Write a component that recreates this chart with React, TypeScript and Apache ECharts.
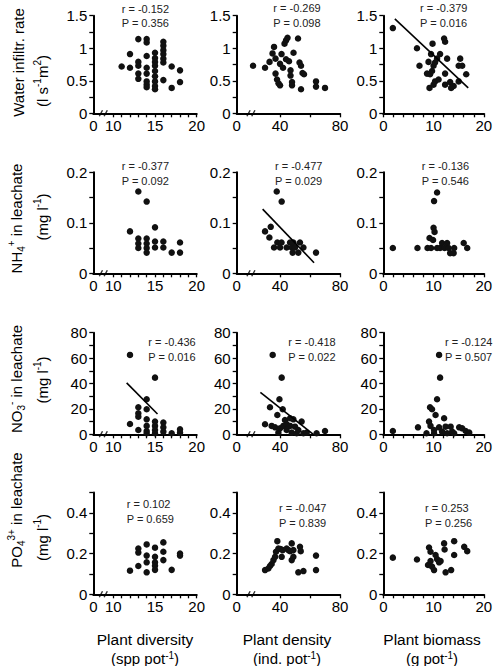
import React, { useEffect, useRef } from "react";
import * as echarts from "echarts";

const FONT = '"Liberation Sans", Arial, Helvetica, sans-serif';

// ---------- data: row 1 water infiltration rate ----------
const WATER_DIVERSITY = [
  [11, 0.72], [12, 0.91], [12, 0.7], [13, 1.14], [13, 0.79], [13, 0.73], [13, 0.61], [13, 0.53],
  [14, 1.14], [14, 1.09], [14, 0.88], [14, 0.7], [14, 0.61], [14, 0.49], [14, 0.44], [14, 0.4],
  [15, 0.93], [15, 0.85], [15, 0.79], [15, 0.73], [15, 0.65], [15, 0.57], [15, 0.49], [15, 0.42], [15, 0.37],
  [16, 1.1], [16, 1.04], [16, 0.97], [16, 0.91], [16, 0.84], [16, 0.78], [16, 0.51],
  [17, 0.72], [17, 0.39], [18, 0.66], [18, 0.48],
];
const WATER_DENSITY = [
  [22, 0.73], [30, 0.7], [33, 0.79], [35, 0.92], [36, 1.02], [37, 0.84], [37, 0.61], [38, 0.52],
  [39, 0.46], [40, 0.43], [40, 0.76], [41, 0.91], [42, 0.7], [43, 1.07], [44, 1.12], [45, 1.16],
  [44, 0.83], [46, 0.8], [47, 0.66], [49, 0.93], [47, 0.58], [48, 0.48], [48, 0.43], [52, 1.15],
  [53, 0.78], [54, 0.73], [55, 0.62], [56, 0.6], [54, 0.37], [64, 0.49], [64, 0.41], [70, 0.39],
];
const WATER_BIOMASS = [
  [1.9, 1.31], [6.7, 1.0], [7.2, 0.73], [8.7, 0.61], [9.0, 0.79], [9.2, 0.39], [9.3, 0.6], [9.5, 0.91],
  [9.7, 0.65], [9.8, 1.07], [10.0, 0.73], [10.0, 0.44], [10.3, 0.78], [10.3, 0.49], [10.7, 0.84],
  [11.0, 0.52], [11.3, 0.91], [12.1, 1.15], [12.3, 1.1], [12.3, 0.61], [12.3, 0.44], [12.7, 0.84],
  [13.3, 0.48], [13.5, 0.39], [14.0, 0.42], [15.0, 0.49], [15.0, 0.73], [15.3, 0.84], [15.7, 0.73], [16.5, 0.6],
];
// ---------- row 2 NH4+ ----------
const NH4_DIVERSITY = [
  [12, 0.083], [13, 0.162], [13, 0.069], [13, 0.059], [13, 0.05], [14, 0.142], [14, 0.069], [14, 0.059],
  [14, 0.05], [14, 0.041], [15, 0.091], [15, 0.063], [15, 0.051], [16, 0.063], [16, 0.051], [17, 0.041],
  [18, 0.061], [18, 0.041],
];
const NH4_DENSITY = [
  [30, 0.083], [32.9, 0.071], [33.8, 0.092], [36, 0.051], [37.8, 0.162], [38.2, 0.061], [40, 0.051],
  [41, 0.061], [41.1, 0.142], [44.4, 0.051], [46.7, 0.061], [47.8, 0.051], [48.4, 0.041], [48.9, 0.061],
  [50, 0.051], [52.2, 0.041], [53.3, 0.061], [55.6, 0.051], [64, 0.041],
];
const NH4_BIOMASS = [
  [1.9, 0.05], [6.8, 0.05], [8.8, 0.05], [9.2, 0.07], [9.5, 0.05], [9.9, 0.066], [10.0, 0.09], [10.2, 0.082],
  [10.1, 0.143], [10.7, 0.16], [10.7, 0.05], [11.3, 0.05], [11.7, 0.06], [12.2, 0.05], [12.7, 0.06],
  [13.0, 0.05], [13.3, 0.04], [14.0, 0.04], [14.1, 0.05], [16.0, 0.06], [16.7, 0.05],
];
// ---------- row 3 NO3- ----------
const NO3_DIVERSITY = [
  [12, 62.5], [12, 8.1], [13, 21.3], [13, 16.5], [13, 13.9], [13, 3.4], [14, 27.6], [14, 19.7], [14, 11.8],
  [14, 6.6], [14, 2.6], [14, 0.8], [15, 44.6], [15, 10], [15, 6.6], [15, 3.4], [15, 0.8], [16, 9.2],
  [16, 5.5], [16, 2.1], [17, 0.8], [18, 3.9], [18, 1.3],
];
const NO3_DENSITY = [
  [30, 7.9], [33.3, 21.3], [34.4, 6.6], [35.1, 62.5], [36.7, 5.5], [38.2, 15.2], [38.9, 1.3], [39.6, 27.6],
  [40, 4.7], [41.1, 44.6], [41.8, 19.7], [42.2, 6.6], [43.3, 11.3], [44.4, 8.1], [44.4, 3.4], [46.7, 12.6],
  [46.7, 6.6], [47.8, 1.3], [48.9, 11.8], [50, 6], [51.1, 0.8], [52.2, 3.4], [54.4, 10], [55.6, 0.8],
  [57.8, 1.3], [64.4, 0.8], [70, 2.6],
];
const NO3_BIOMASS = [
  [1.9, 2.6], [6.9, 5.5], [8.6, 0.8], [9.1, 10], [9.3, 21.3], [9.4, 6.6], [9.7, 19.7], [10.1, 3.4],
  [10.1, 0.8], [10.4, 15.2], [10.7, 27.6], [11.1, 62.5], [11.3, 44.6], [11.1, 5.5], [11.7, 2.1],
  [12.1, 12.6], [12.4, 6], [12.7, 0.8], [13.4, 6], [13.7, 2.1], [14.1, 0.8], [15.1, 5.5], [15.7, 4.7],
  [16.4, 2.6], [17.1, 1.3],
];
// ---------- row 4 PO4 3+ ----------
const PO4_DIVERSITY = [
  [12, 0.116], [13, 0.225], [13, 0.205], [13, 0.139], [14, 0.245], [14, 0.19], [14, 0.157], [14, 0.108],
  [15, 0.229], [15, 0.184], [15, 0.157], [15, 0.14], [15, 0.12], [16, 0.255], [16, 0.209], [16, 0.168],
  [17, 0.12], [18, 0.2], [18, 0.19],
];
const PO4_DENSITY = [
  [30, 0.119], [32.2, 0.127], [33.3, 0.139], [34.4, 0.149], [35.6, 0.168], [36.7, 0.184], [37.3, 0.209],
  [38.2, 0.261], [38.9, 0.225], [40.4, 0.222], [41.1, 0.184], [41.8, 0.217], [44.4, 0.225], [45.6, 0.217],
  [46.7, 0.212], [47.8, 0.25], [47.8, 0.168], [48.9, 0.217], [48.9, 0.184], [53.3, 0.233], [53.8, 0.212],
  [52.2, 0.108], [55.6, 0.114], [64, 0.19], [64, 0.119],
];
const PO4_BIOMASS = [
  [1.9, 0.18], [6.7, 0.171], [9.1, 0.23], [9.4, 0.209], [8.9, 0.144], [9.4, 0.163], [9.7, 0.136],
  [10.1, 0.119], [10.4, 0.193], [10.7, 0.173], [11.1, 0.157], [11.4, 0.163], [12.1, 0.25], [12.2, 0.22],
  [12.4, 0.108], [13.5, 0.119], [14.1, 0.261], [14.1, 0.193], [16.1, 0.233], [16.7, 0.212],
];

// regression lines (end points)
const FIT_WATER_BIOMASS = [[2.3, 1.45], [16.9, 0.39]];
const FIT_NH4_DENSITY = [[28.4, 0.127], [62.7, 0.021]];
const FIT_NO3_DIVERSITY = [[11.6, 40.5], [15.3, 16]];
const FIT_NO3_DENSITY = [[26.9, 33], [62.2, 0]];

const STAT_R = [
  ["r = -0.152", "r = -0.269", "r = -0.379"],
  ["r = -0.377", "r = -0.477", "r = -0.136"],
  ["r = -0.436", "r = -0.418", "r = -0.124"],
  ["r = 0.102", "r = -0.047", "r = 0.253"],
];
const STAT_P = [
  ["P = 0.356", "P = 0.098", "P = 0.016"],
  ["P = 0.092", "P = 0.029", "P = 0.546"],
  ["P = 0.016", "P = 0.022", "P = 0.507"],
  ["P = 0.659", "P = 0.839", "P = 0.256"],
];

// axes
const X_MIN = [7.6, 11.1, 0];
const X_MAX = [20, 80, 20];
const X_LABEL_VALUES = [[7.6, 10, 15, 20], [11.1, 40, 80], [0, 10, 20]];
const X_TICK_VALUES = [
  [10, 11, 12, 13, 14, 15, 16, 17, 18, 19, 20],
  [40, 60, 80],
  [0, 2, 4, 6, 8, 10, 12, 14, 16, 18, 20],
];
const X_BREAK = [8.8, 20.6];
const Y_MAX = [1.5, 0.2, 80, 0.5];
const Y_LABEL_VALUES = [[0, 0.5, 1, 1.5], [0, 0.1, 0.2], [0, 20, 40, 60, 80], [0, 0.2, 0.4]];
const Y_TICK_VALUES = [
  [0, 0.25, 0.5, 0.75, 1, 1.25, 1.5],
  [0, 0.05, 0.1, 0.15, 0.2],
  [0, 10, 20, 30, 40, 50, 60, 70, 80],
  [0, 0.1, 0.2, 0.3, 0.4, 0.5],
];

// layout (px)
const COL_LEFT = [93.3, 236.7, 383.3];
const COL_WIDTH = [103.4, 103.3, 100.5];
const ROW_TOP = [15.7, 172.3, 332.7, 492.5];
const ROW_HEIGHT = [97.6, 101, 101.6, 101.8];
const STAT_POS = [
  [[121.7, 8.5], [273.3, 8], [420, 8]],
  [[121.7, 166], [275, 166], [421.7, 166]],
  [[148.3, 342], [288.3, 342], [445, 342]],
  [[126.7, 504], [279, 508], [425, 508]],
];

const ROW_TITLE_1 = [
  "{n|Water infiltr. rate}",
  "{n|NH}{sub|4}{sup|+}{n| in leachate}",
  "{n|NO}{sub|3}{sup|-}{n| in leachate}",
  "{n|PO}{sub|4}{sup|3+}{n| in leachate}",
];
const ROW_TITLE_2 = [
  "{n|(l s}{sup|-1}{n|m}{sup|2}{n|)}",
  "{n|(mg l}{sup|-1}{n|)}",
  "{n|(mg l}{sup|-1}{n|)}",
  "{n|(mg l}{sup|-1}{n|)}",
];
const ROW_TITLE_POS = [
  [[18.5, 62.5], [42, 81]],
  [[16, 218.5], [42, 217]],
  [[16, 379], [42, 380]],
  [[16, 510], [42, 537.5]],
];
const COL_TITLE_1 = ["Plant diversity", "Plant density", "Plant biomass"];
const COL_TITLE_2 = [
  "{n|(spp pot}{sup|-1}{n|)}",
  "{n|(ind. pot}{sup|-1}{n|)}",
  "{n|(g pot}{sup|-1}{n|)}",
];
const COL_TITLE_X = [145, 287, 432];
const COL_TITLE_Y = [639.5, 658.5];

const PANELS = [
  [WATER_DIVERSITY, WATER_DENSITY, WATER_BIOMASS],
  [NH4_DIVERSITY, NH4_DENSITY, NH4_BIOMASS],
  [NO3_DIVERSITY, NO3_DENSITY, NO3_BIOMASS],
  [PO4_DIVERSITY, PO4_DENSITY, PO4_BIOMASS],
];
const FITS: (number[][] | null)[][] = [
  [null, null, FIT_WATER_BIOMASS],
  [null, FIT_NH4_DENSITY, null],
  [FIT_NO3_DIVERSITY, FIT_NO3_DENSITY, null],
  [null, null, null],
];

function makeRich(size: number, lh: number) {
  return {
    n: { fontSize: size, fontFamily: FONT, lineHeight: lh, fill: "#000", color: "#000" },
    sup: { fontSize: 10, fontFamily: FONT, lineHeight: 10, verticalAlign: "top", fill: "#000", color: "#000" },
    sub: { fontSize: 10, fontFamily: FONT, lineHeight: 10, verticalAlign: "bottom", fill: "#000", color: "#000" },
  };
}

function richText(text: string, x: number, y: number, rotate: boolean, size: number, lh: number) {
  return {
    type: "text",
    x,
    y,
    rotation: rotate ? Math.PI / 2 : 0,
    silent: true,
    style: {
      text,
      rich: makeRich(size, lh),
      fill: "#000",
      font: `${size}px ${FONT}`,
      fontSize: size,
      fontFamily: FONT,
      align: "center",
      verticalAlign: "middle",
      textAlign: "center",
      textVerticalAlign: "middle",
    },
  };
}

function plainText(text: string, x: number, y: number, size: number, align: string, color: string) {
  return {
    type: "text",
    x,
    y,
    silent: true,
    style: {
      text,
      fill: color,
      font: `${size}px ${FONT}`,
      fontSize: size,
      fontFamily: FONT,
      align,
      verticalAlign: "middle",
      textAlign: align,
      textVerticalAlign: "middle",
    },
  };
}

const BREAK_SYMBOL = "path://M0,10L4,0M6,10L10,0";

export default function App() {
  const ref = useRef<HTMLDivElement>(null);
  useEffect(() => {
    if (!ref.current) return;
    const chart = echarts.init(ref.current, null, { renderer: "svg" });
    const grid: any[] = [];
    const xAxis: any[] = [];
    const yAxis: any[] = [];
    const series: any[] = [];
    const graphic: any[] = [];
    for (let r = 0; r < 4; r++) {
      for (let c = 0; c < 3; c++) {
        const i = r * 3 + c;
        grid.push({ left: COL_LEFT[c], top: ROW_TOP[r], width: COL_WIDTH[c], height: ROW_HEIGHT[r], containLabel: false });
        const xmin = X_MIN[c];
        xAxis.push({
          type: "value",
          gridIndex: i,
          min: xmin,
          max: X_MAX[c],
          axisLine: { show: true, onZero: false, lineStyle: { color: "#000", width: 2 } },
          axisTick: { show: true, customValues: X_TICK_VALUES[c], length: 4, lineStyle: { color: "#000", width: 1.3 } },
          axisLabel: {
            show: true,
            customValues: X_LABEL_VALUES[c],
            formatter: (v: number) => (v === xmin ? "0" : String(v)),
            color: "#000",
            fontSize: 15,
            fontFamily: FONT,
            margin: 5,
          },
          splitLine: { show: false },
        });
        yAxis.push({
          type: "value",
          gridIndex: i,
          min: 0,
          max: Y_MAX[r],
          axisLine: { show: true, onZero: false, lineStyle: { color: "#000", width: 2 } },
          axisTick: { show: true, customValues: Y_TICK_VALUES[r], length: 4, lineStyle: { color: "#000", width: 1.3 } },
          axisLabel: {
            show: true,
            customValues: Y_LABEL_VALUES[r],
            formatter: (v: number) => String(v),
            color: "#000",
            fontSize: 15,
            fontFamily: FONT,
            margin: 6,
          },
          splitLine: { show: false },
        });
        series.push({
          type: "scatter",
          xAxisIndex: i,
          yAxisIndex: i,
          data: PANELS[r][c],
          symbolSize: 6.5,
          itemStyle: { color: "#111", opacity: 1 },
          clip: false,
          z: 3,
          silent: true,
        });
        const fit = FITS[r][c];
        if (fit) {
          series.push({
            type: "line",
            xAxisIndex: i,
            yAxisIndex: i,
            data: fit,
            symbol: "none",
            lineStyle: { color: "#000", width: 1.6 },
            clip: false,
            z: 4,
            silent: true,
          });
        }
        if (c < 2) {
          series.push({
            type: "scatter",
            xAxisIndex: i,
            yAxisIndex: i,
            data: [[X_BREAK[c], 0]],
            symbol: BREAK_SYMBOL,
            symbolSize: [8, 6],
            itemStyle: { color: "rgba(0,0,0,0)", borderColor: "#000", borderWidth: 1.2 },
            clip: false,
            z: 5,
            silent: true,
          });
        }
        const [sx, sy] = STAT_POS[r][c];
        graphic.push(plainText(STAT_R[r][c], sx, sy, 11, "left", "#222"));
        graphic.push(plainText(STAT_P[r][c], sx, sy + 14.5, 11, "left", "#222"));
      }
      graphic.push(richText(ROW_TITLE_1[r], ROW_TITLE_POS[r][0][0], ROW_TITLE_POS[r][0][1], true, 15, 20));
      graphic.push(richText(ROW_TITLE_2[r], ROW_TITLE_POS[r][1][0], ROW_TITLE_POS[r][1][1], true, 15, 20));
    }
    for (let c = 0; c < 3; c++) {
      graphic.push(plainText(COL_TITLE_1[c], COL_TITLE_X[c], COL_TITLE_Y[0], 15.5, "center", "#000"));
      graphic.push(richText(COL_TITLE_2[c], COL_TITLE_X[c], COL_TITLE_Y[1], false, 15, 16));
    }
    chart.setOption({
      animation: false,
      backgroundColor: "#fff",
      grid,
      xAxis,
      yAxis,
      series,
      graphic,
    });
    return () => chart.dispose();
  }, []);
  return (
    <div
      ref={ref}
      style={{ position: "absolute", left: 0, top: 0, width: 498, height: 666, background: "#fff" }}
    />
  );
}
